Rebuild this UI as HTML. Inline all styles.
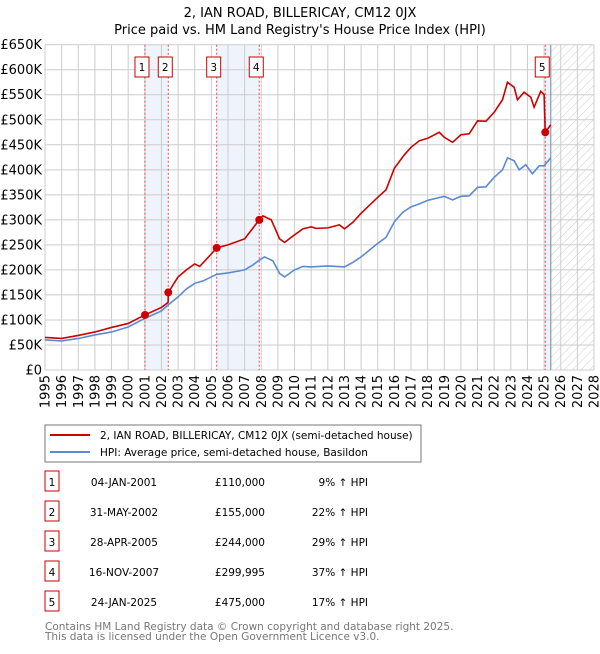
<!DOCTYPE html>
<html><head><meta charset="utf-8"><style>
body{margin:0;background:#fff;font-family:"DejaVu Sans","Liberation Sans",sans-serif;}
svg text{font-family:"DejaVu Sans","Liberation Sans",sans-serif;}
</style></head><body>
<svg id="c" width="600" height="650" xmlns="http://www.w3.org/2000/svg">
<defs><pattern id="hatch" width="6" height="6" patternUnits="userSpaceOnUse" patternTransform="rotate(45)"><line x1="0" y1="0" x2="0" y2="6" stroke="#ccc" stroke-width="1"/></pattern></defs>
<text x="300" y="17" text-anchor="middle" font-size="13">2, IAN ROAD, BILLERICAY, CM12 0JX</text>
<text x="300" y="34" text-anchor="middle" font-size="13">Price paid vs. HM Land Registry's House Price Index (HPI)</text>
<g id="plot"></g>
<rect x="45" y="425" width="376" height="37" fill="#fff" stroke="#777"/>
<line x1="50" y1="435" x2="90" y2="435" stroke="#cc0000" stroke-width="2"/>
<text x="100" y="439" font-size="10.5">2, IAN ROAD, BILLERICAY, CM12 0JX (semi-detached house)</text>
<line x1="50" y1="452" x2="90" y2="452" stroke="#5b8bd0" stroke-width="2"/>
<text x="100" y="456" font-size="10.5">HPI: Average price, semi-detached house, Basildon</text>
<g id="table" font-size="10.5"></g>
<text x="45" y="630" font-size="10.5" fill="#777">Contains HM Land Registry data © Crown copyright and database right 2025.</text>
<text x="45" y="640" font-size="10.5" fill="#777">This data is licensed under the Open Government Licence v3.0.</text>
</svg>
<script>
const hpiYears=[1995,1996,1997,1998,1999,2000,2001,2002,2002.4,2003,2003.5,2004,2004.5,2005,2005.3,2006,2007,2007.5,2007.9,2008.2,2008.7,2009.1,2009.4,2010,2010.5,2011,2012,2013,2013.5,2014,2015,2015.5,2016,2016.5,2017,2017.5,2018,2019,2019.5,2020,2020.5,2021,2021.5,2022,2022.5,2022.8,2023.2,2023.5,2023.9,2024.3,2024.7,2025.0,2025.4];
const hpiValues=[60,58,63,70,76,86,103,118,130,146,162,173,178,186,191,194,200,210,220,226,218,193,186,200,207,206,208,206,215,226,253,265,296,315,326,332,339,347,340,347,348,365,366,385,400,424,418,400,410,392,408,408,424];
const redYears=[1995,1996,1997,1998,1999,2000,2001,2002,2002.4,2002.41,2003,2003.5,2004,2004.3,2005,2005.32,2006,2007,2007.88,2008.1,2008.6,2009.1,2009.4,2010,2010.5,2011,2011.3,2012,2012.7,2013,2013.5,2014,2015,2015.5,2016,2016.6,2017,2017.5,2018,2018.7,2019,2019.5,2020,2020.5,2021,2021.5,2022,2022.5,2022.8,2023.2,2023.4,2023.8,2024.2,2024.4,2024.8,2025.0,2025.07,2025.4];
const redValues=[65,63,69,76,85,93,110,125,135,155,186,200,212,207,232,244,250,262,300,308,300,262,255,270,282,286,283,284,290,282,295,313,345,360,403,430,445,458,463,475,465,455,470,472,498,497,515,540,575,565,540,555,545,525,557,550,475,490];
const saleYears=[2001.01,2002.41,2005.32,2007.88,2025.07];
const saleValues=[110,155,244,299.995,475];
const saleLabels=["1","2","3","4","5"];
const saleDates=["04-JAN-2001","31-MAY-2002","28-APR-2005","16-NOV-2007","24-JAN-2025"];
const salePrices=["£110,000","£155,000","£244,000","£299,995","£475,000"];
const saleHpi=["9% ↑ HPI","22% ↑ HPI","29% ↑ HPI","37% ↑ HPI","17% ↑ HPI"];
const yTicks=[0,50,100,150,200,250,300,350,400,450,500,550,600,650];
const yTickLabels=["£0","£50K","£100K","£150K","£200K","£250K","£300K","£350K","£400K","£450K","£500K","£550K","£600K","£650K"];
const xTicks=[1995,1996,1997,1998,1999,2000,2001,2002,2003,2004,2005,2006,2007,2008,2009,2010,2011,2012,2013,2014,2015,2016,2017,2018,2019,2020,2021,2022,2023,2024,2025,2026,2027,2028];
const dataEnd=2025.4;
const X0=45,X1=594,Y0=370,Y1=44.7;
const x=v=>X0+(v-1995)*(X1-X0)/33;
const y=v=>Y0-v*(Y0-Y1)/650;
const NS="http://www.w3.org/2000/svg";
const plot=document.getElementById('plot');
function mk(tag,attrs,parent){const e=document.createElementNS(NS,tag);for(const k in attrs)e.setAttribute(k,attrs[k]);(parent||plot).appendChild(e);return e;}
let r=mk('rect',{x:x(saleYears[0]),y:Y1,width:x(saleYears[1])-x(saleYears[0]),height:Y0-Y1,fill:'#eef3fc'});


r=mk('rect',{x:x(saleYears[2]),y:Y1,width:x(saleYears[3])-x(saleYears[2]),height:Y0-Y1,fill:'#eef3fc'});


r=mk('rect',{x:x(saleYears[4]),y:Y1,width:x(dataEnd)-x(saleYears[4]),height:Y0-Y1,fill:'#eef3fc'});


r=mk('rect',{x:x(dataEnd),y:Y1,width:X1-x(dataEnd),height:Y0-Y1,fill:'url(#hatch)'});


yTicks.forEach((t,i)=>{
  const l=mk('line',{x1:X0,x2:X1,y1:y(t),y2:y(t),stroke:'#ccc','stroke-width':1});
  
  
  const tx=mk('text',{x:X0-3,y:y(t)+4.5,'text-anchor':'end','font-size':13});
  tx.textContent=yTickLabels[i];
  
  
});
xTicks.forEach(t=>{
  const l=mk('line',{x1:x(t),x2:x(t),y1:Y1,y2:Y0,stroke:'#ccc','stroke-width':1});
  
  
  const tx=mk('text',{x:0,y:0,'text-anchor':'end','font-size':13,transform:`translate(${x(t)+4.5},${Y0+5}) rotate(-90)`});
  tx.textContent=t;
  
  
});
r=mk('line',{x1:x(dataEnd),x2:x(dataEnd),y1:Y1,y2:Y0,stroke:'#8898b0','stroke-width':1.2});


saleYears.forEach((s,i)=>{
  const l=mk('line',{x1:x(s),x2:x(s),y1:Y1,y2:Y0,stroke:'#e05050','stroke-width':1,'stroke-dasharray':'2,2'});
  
  
  const b=mk('rect',{x:x(s)-10,y:57,width:14,height:20,fill:'#fff',stroke:'#cc0000'});
  
  
  const t=mk('text',{x:x(s)-3,y:71,'text-anchor':'middle','font-size':10.5});
  t.textContent=saleLabels[i];
  
  
});
let p=mk('polyline',{points:hpiYears.map((v,i)=>x(v)+','+y(hpiValues[i])).join(' '),fill:'none',stroke:'#5b8bd0','stroke-width':1.6});


p=mk('polyline',{points:redYears.map((v,i)=>x(v)+','+y(redValues[i])).join(' '),fill:'none',stroke:'#cc0000','stroke-width':1.6});


saleYears.forEach((s,i)=>{
  const c=mk('circle',{cx:x(s),cy:y(saleValues[i]),r:4,fill:'#cc0000'});
  
  
});
const tb=document.getElementById('table');
saleLabels.forEach((lab,i)=>{
  const yy=483+i*30;
  const b=mk('rect',{x:45,y:yy-12,width:14,height:20,fill:'#fff',stroke:'#cc0000'},tb);
  
  
  const cells=[[52,'middle',lab],[124,'middle',saleDates[i]],[265,'end',salePrices[i]],[368,'end',saleHpi[i]]];
  cells.forEach(c=>{
    const t=mk('text',{x:c[0],y:yy+3,'text-anchor':c[1]},tb);
    t.textContent=c[2];
    
    
  });
});
</script>
</body></html>
